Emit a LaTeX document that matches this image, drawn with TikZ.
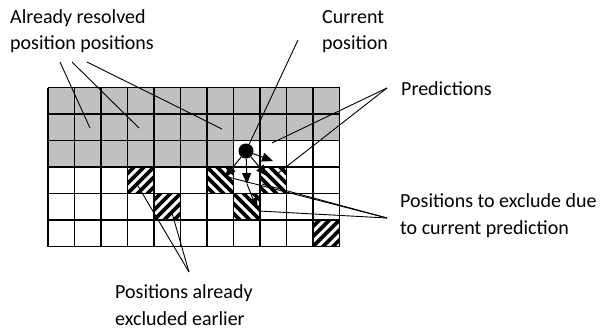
\documentclass[tikz,border=0pt]{standalone}
\usepackage{fontspec}
\setmainfont{Carlito}
\usetikzlibrary{arrows.meta}
\definecolor{cellgray}{RGB}{192,192,192}
\newcommand\hcell[3]{%
  \pgfmathsetmacro\hx{48+26.5*(#1-1)}%
  \pgfmathsetmacro\hy{87.5+26.5*(#2-1)}%
  \pgfmathsetmacro\cx{\hx+13.25}%
  \pgfmathsetmacro\cy{\hy+13.25}%
  \begin{scope}
    \clip (\hx,\hy) rectangle ++(26.5,26.5);
    \foreach \k in {-4,...,4}{
      \draw[hatchline] ({\cx+10*\k-25},{\cy-25*#3}) -- ({\cx+10*\k+25},{\cy+25*#3});
    }
  \end{scope}}
\begin{document}
\begin{tikzpicture}[x=1pt,y=-1pt,
  lbl/.style={anchor=base west,inner sep=0pt,font=\fontsize{20}{24}\selectfont},
  gridline/.style={line width=1.4pt},
  lead/.style={line width=0.9pt},
  arr/.style={line width=1pt,-{Triangle[length=11pt,width=9pt]}},
  hatchline/.style={line width=3.6pt}]
\useasboundingbox (0,0) rectangle (600,330);
% gray resolved cells
\fill[cellgray] (48,87.5) rectangle (339.5,140.5);
\fill[cellgray] (48,140.5) rectangle ({48+7*26.5},167);
% hatched cells
\hcell{4}{4}{-1}
\hcell{7}{4}{1}
\hcell{9}{4}{1}
\hcell{5}{5}{-1}
\hcell{8}{5}{1}
\hcell{11}{6}{-1}
% grid
\foreach \i in {0,...,11} \draw[gridline] ({48+26.5*\i},87.5) -- ({48+26.5*\i},246.5);
\foreach \j in {0,...,6} \draw[gridline] (48,{87.5+26.5*\j}) -- (339.5,{87.5+26.5*\j});
% current position and predictions
\node[circle,fill=black,inner sep=0pt,minimum size=15pt] (dot) at (246,151) {};
\coordinate (pR) at (273,161);
\coordinate (pD) at (247,184);
\coordinate (pL) at (225,177);
\coordinate (pDR) at (267,176);
\coordinate (pD2) at (257,209);
\draw[arr] (dot) -- (pR);
\draw[arr] (dot) -- (pD);
\draw[arr] (dot) -- (pL);
\draw[arr] (dot) -- (pDR);
\draw[arr] (pD) -- (pD2);
% labels
\node[lbl] (ar1) at (10,23) {Already resolved};
\node[lbl] (ar2) at (10,49) {position positions};
\node[lbl] (cu1) at (322,23) {Current};
\node[lbl] (cu2) at (322,49) {position};
\node[lbl] (pr) at (401,95) {Predictions};
\node[lbl] (ex1) at (400,207) {Positions to exclude due};
\node[lbl] (ex2) at (400,234) {to current prediction};
\node[lbl] (ea1) at (115,298) {Positions already};
\node[lbl] (ea2) at (115,325) {excluded earlier};
% leader lines
\coordinate (arS1) at (60,62);
\coordinate (arS2) at (72,62);
\coordinate (arS3) at (87,62);
\coordinate (arE1) at (90,128);
\coordinate (arE2) at (139,128);
\coordinate (arE3) at (222,129);
\draw[lead] (arS1) -- (arE1);
\draw[lead] (arS2) -- (arE2);
\draw[lead] (arS3) -- (arE3);
\coordinate (cuS) at (298,40);
\draw[lead] (cuS) -- (dot);
\coordinate (prS) at (387,88);
\coordinate (prE1) at (272,143);
\coordinate (prE2) at (277,174);
\draw[lead] (prS) -- (prE1);
\draw[lead] (prS) -- (prE2);
\coordinate (exS) at (387,218);
\coordinate (exE1) at (228,177);
\coordinate (exE2) at (262,184);
\coordinate (exE3) at (259,211);
\draw[lead] (exS) -- (exE1);
\draw[lead] (exS) -- (exE2);
\draw[lead] (exS) -- (exE3);
\coordinate (eaS) at (189,272);
\coordinate (eaE1) at (138,186);
\coordinate (eaE2) at (172,213);
\draw[lead] (eaS) -- (eaE1);
\draw[lead] (eaS) -- (eaE2);
\end{tikzpicture}
\end{document}
